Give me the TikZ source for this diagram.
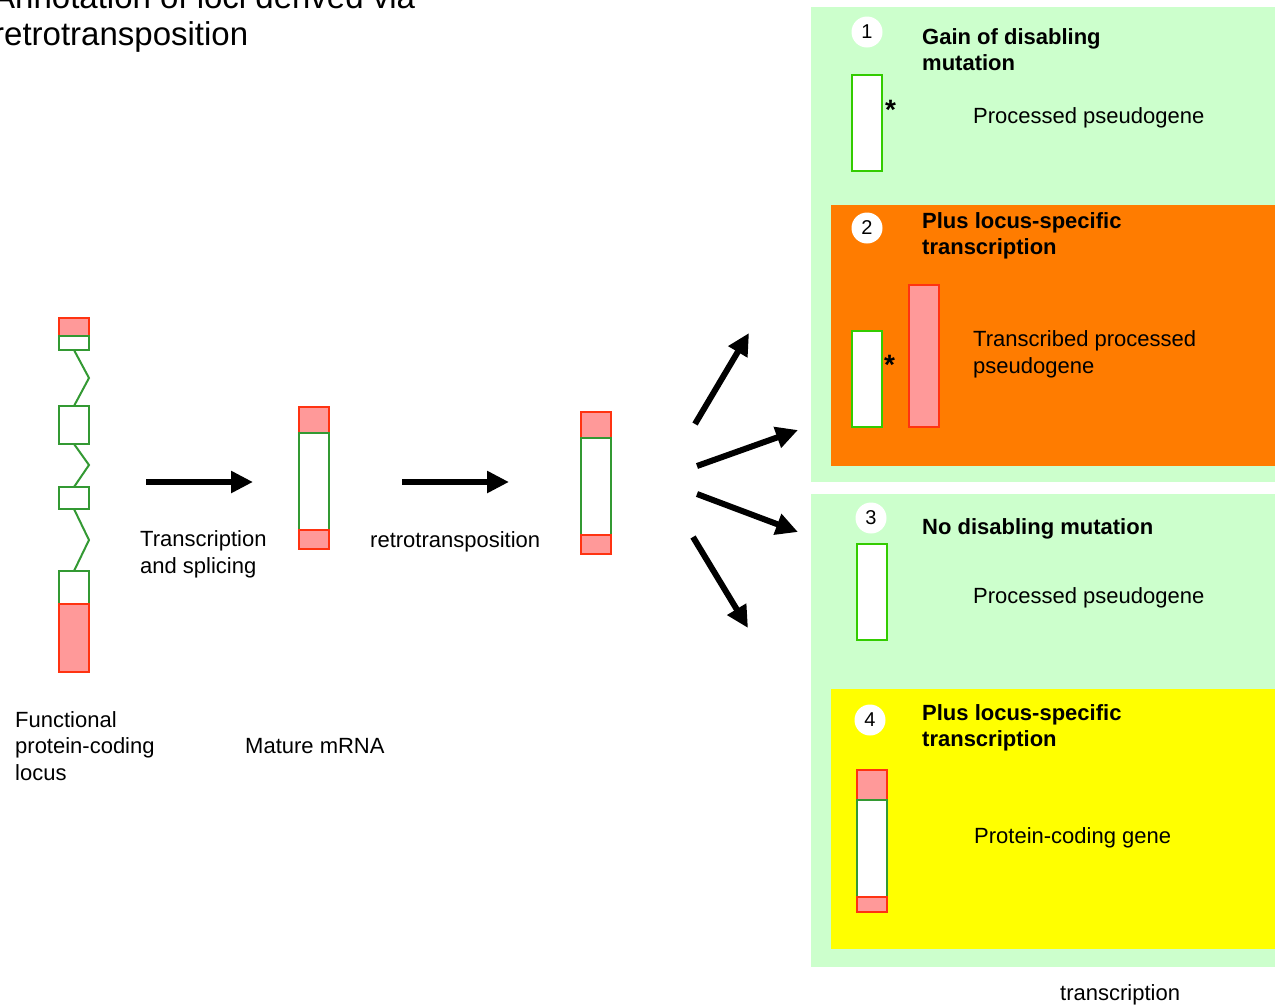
\documentclass[tikz,border=0pt]{standalone}
\usepackage{fontspec}
\setmainfont{Liberation Sans}
\usepackage{xcolor}
\usetikzlibrary{positioning,arrows.meta}
\definecolor{panelgreen}{RGB}{204,255,204}
\definecolor{panelorange}{RGB}{255,124,0}
\definecolor{panelyellow}{RGB}{255,255,0}
\definecolor{utrpink}{RGB}{255,153,153}
\definecolor{utrred}{RGB}{255,51,17}
\definecolor{cdsgreen}{RGB}{51,153,51}
\definecolor{limegreen}{RGB}{51,204,0}
\newcommand{\titlefont}{\fontsize{33}{37}\selectfont}
\newcommand{\lblfont}{\fontsize{22}{26.5}\selectfont}
\newcommand{\headfont}{\fontsize{22}{26}\selectfont\bfseries}
\newcommand{\numfont}{\fontsize{20}{22}\selectfont}
\newcommand{\starfont}{\fontsize{28}{30}\selectfont\bfseries}

\begin{document}
\begin{tikzpicture}[x=1pt,y=-1pt]
\tikzstyle{seg}=[rectangle, minimum width=30, inner sep=0, outer sep=0, line width=2, anchor=north]
\tikzstyle{utr}=[seg, draw=utrred, fill=utrpink]
\tikzstyle{cds}=[seg, draw=cdsgreen, fill=white]
\tikzstyle{pseudo}=[seg, draw=limegreen, fill=white, minimum height=96]
\tikzstyle{intron}=[draw=cdsgreen, line width=2]
\tikzstyle{num}=[circle, fill=white, minimum size=31, inner sep=0, font=\numfont]
\tikzstyle{head}=[anchor=base west, align=left, inner sep=0, font=\headfont]
\tikzstyle{lbl}=[anchor=base west, align=left, inner sep=0, font=\lblfont]
\tikzstyle{connect}=[-{Triangle[length=22pt,width=21pt]}, line width=6]
\useasboundingbox (0,0) rectangle (1275,1005);
  % panels
  \fill[panelgreen] (811,7) rectangle (1275,482);
  \fill[panelorange] (831,205) rectangle (1275,466);
  \fill[panelgreen] (811,494) rectangle (1275,967);
  \fill[panelyellow] (831,689) rectangle (1275,949);
  \node[lbl, font=\titlefont] (title) at (-7,45) {Annotation of loci derived via\\retrotransposition};
  % functional locus
  \node[utr, minimum height=18] (l1u) at (74,318) {};
  \node[cds, minimum height=14, below=0pt of l1u] (l1c) {};
  \node[cds, minimum height=38] (l2) at (74,406) {};
  \node[cds, minimum height=22] (l3) at (74,487) {};
  \node[cds, minimum height=33] (l4) at (74,571) {};
  \node[utr, minimum height=68, below=0pt of l4] (l4u) {};
  \draw[intron] (l1c.south) -- ++(15,28) -- (l2.north);
  \draw[intron] (l2.south) -- ++(15,21) -- (l3.north);
  \draw[intron] (l3.south) -- ++(15,31) -- (l4.north);
  \node[lbl] (locuslbl) at (15,780) {Functional\\protein-coding\\locus};
  % mature mRNA
  \node[utr, minimum height=26] (m1) at (313.5,407) {};
  \node[cds, minimum height=97, below=0pt of m1] (m2) {};
  \node[utr, minimum height=19, below=0pt of m2] (m3) {};
  \node[lbl] (mrnalbl) at (245,753) {Mature mRNA};
  % retrotransposed copy
  \node[utr, minimum height=26] (r1) at (595.5,412) {};
  \node[cds, minimum height=97, below=0pt of r1] (r2) {};
  \node[utr, minimum height=19, below=0pt of r2] (r3) {};
  \coordinate (a1s) at (146,482);
  \coordinate (a1e) at (253,482);
  \coordinate (a2s) at (402,482);
  \coordinate (a2e) at (509,482);
  \draw[connect] (a1s) -- (a1e);
  \draw[connect] (a2s) -- (a2e);
  \node[lbl] (splicelbl) at (140,573) {Transcription\\and splicing};
  \node[lbl] (retrolbl) at (370,547) {retrotransposition};
  \coordinate (d1s) at (695,424);
  \coordinate (d1e) at (749,333);
  \coordinate (d2s) at (697,466);
  \coordinate (d2e) at (798,430);
  \coordinate (d3s) at (697,494);
  \coordinate (d3e) at (798,532);
  \coordinate (d4s) at (693,537);
  \coordinate (d4e) at (748,628);
  \foreach \s/\e in {d1s/d1e, d2s/d2e, d3s/d3e, d4s/d4e}
    \draw[connect] (\s) -- (\e);
  % outcome 1
  \node[num] (n1) at (867,32) {1};
  \node[head] (h1) at (922,70) {Gain of disabling\\mutation};
  \node[pseudo] (p1) at (867,75) {};
  \node[lbl, font=\starfont] (s1) at (885,119) {*};
  \node[lbl] (t1) at (973,123) {Processed pseudogene};
  % outcome 2
  \node[num] (n2) at (867,228) {2};
  \node[head] (h2) at (922,254) {Plus locus-specific\\transcription};
  \node[pseudo] (p2) at (867,331) {};
  \node[lbl, font=\starfont] (s2) at (884,374) {*};
  \node[utr, minimum height=142] (x2) at (924,285) {};
  \node[lbl] (t2) at (973,373) {Transcribed processed\\pseudogene};
  % outcome 3
  \node[num] (n3) at (871,518) {3};
  \node[head] (h3) at (922,534) {No disabling mutation};
  \node[pseudo] (p3) at (872,544) {};
  \node[lbl] (t3) at (973,603) {Processed pseudogene};
  % outcome 4
  \node[num] (n4) at (870,720) {4};
  \node[head] (h4) at (922,746) {Plus locus-specific\\transcription};
  \node[utr, minimum height=30] (g1) at (872,770) {};
  \node[cds, minimum height=97, below=0pt of g1] (g2) {};
  \node[utr, minimum height=15, below=0pt of g2] (g3) {};
  \node[lbl] (t4) at (974,843) {Protein-coding gene};
  \node[lbl] (translbl) at (1060,1000) {transcription};
\end{tikzpicture}
\end{document}
